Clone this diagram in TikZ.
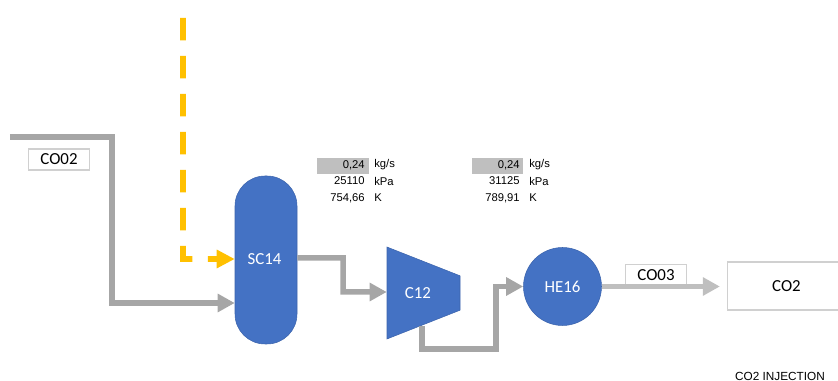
\documentclass[tikz,border=0pt]{standalone}
\usepackage{fontspec}
\setmainfont{Carlito}
\newfontfamily\datafont{Liberation Sans}
\definecolor{pfblue}{RGB}{68,114,196}
\definecolor{pfedge}{RGB}{60,100,172}
\definecolor{pfgray}{RGB}{166,166,166}
\definecolor{pflight}{RGB}{191,191,191}
\definecolor{pfbox}{RGB}{208,208,208}
\definecolor{pfyellow}{RGB}{255,192,0}
\usetikzlibrary{arrows.meta,positioning,shapes.geometric,calc}

\begin{document}
\begin{tikzpicture}[
  unit/.style={draw=pfedge, line width=0.3pt, fill=pfblue, text=white, inner sep=0pt, font=\fontsize{9.6}{11}\selectfont},
  tagbox/.style={draw=pfbox, line width=0.7pt, fill=white, minimum width=1.22cm, minimum height=0.42cm, inner sep=0pt, font=\fontsize{9.6}{11}\selectfont},
  stream/.style={line width=0.11cm, pfgray, -{Triangle[length=0.34cm,width=0.35cm]}},
  val/.style={anchor=east, inner sep=0pt, font=\datafont\fontsize{6.4}{7}\selectfont},
  uom/.style={anchor=west, inner sep=0pt, font=\datafont\fontsize{6.4}{7}\selectfont},
  flowcell/.style={fill=pflight, minimum width=1.03cm, minimum height=0.32cm, inner sep=0pt}
]
  \useasboundingbox (0,0) rectangle (16.76,7.62);

  %% Process units
  \node[unit, rounded corners=0.6cm, minimum width=1.24cm, minimum height=3.36cm] (sc14) at (5.32,2.42) {\raisebox{0.03cm}{SC14}\kern0.06cm};
  \node[unit, trapezium, trapezium angle=76, shape border rotate=270, trapezium stretches=true, minimum width=1.84cm, minimum height=1.46cm] (c12) at (8.47,1.76) {C12\kern0.22cm};
  \node[unit, circle, minimum size=1.56cm] (he16) at (11.25,1.89) {HE16};
  \node[draw=pfbox, line width=0.7pt, fill=white, minimum width=2.36cm, minimum height=0.96cm, inner sep=0pt, font=\fontsize{9.6}{11}\selectfont] (co2) at (15.73,1.9) {CO2};

  %% Stream tags
  \node[tagbox] (co02) at (1.18,4.43) {CO02};
  \node[tagbox] (co03) at (13.12,2.12) {CO03};

  %% Stream free ends
  \coordinate (feed) at (0.2,4.88);
  \coordinate (inj) at (3.66,7.26);

  %% Streams
  \draw[stream] (feed) -- (2.24,4.88) -- (2.24,1.56) -- ([yshift=-0.86cm]sc14.west);
  \draw[stream] ([yshift=0.04cm]sc14.east) -- (6.86,2.46) -- (6.86,1.78) -- ([yshift=0.02cm]c12.west);
  \draw[stream] (8.44,1.1) -- (8.44,0.64) -- (9.92,0.64) -- (9.92,1.89) -- (he16.west);
  \draw[stream, pflight] (he16.east) -- ([xshift=-0.14cm]co2.west |- he16.east);
  \draw[pfyellow, line width=0.115cm, dash pattern=on 0.45cm off 0.31cm, -{Triangle[length=0.36cm,width=0.35cm]}] (inj) -- (3.66,2.44) -- ([yshift=0.02cm]sc14.west);

  %% Stream data
  \node[flowcell] (flow1) at (6.86,4.3) {};
  \node[flowcell] (flow2) at (9.95,4.3) {};
  \node[val] (m1) at (7.3,4.32) {0,24};
  \node[val] (p1) at (7.3,4.0) {25110};
  \node[val] (t1) at (7.3,3.66) {754,66};
  \node[uom] (mu1) at (7.48,4.32) {kg/s};
  \node[uom] (pu1) at (7.48,4.0) {kPa};
  \node[uom] (tu1) at (7.48,3.66) {K};
  \node[val] (m2) at (10.4,4.32) {0,24};
  \node[val] (p2) at (10.4,4.0) {31125};
  \node[val] (t2) at (10.4,3.66) {789,91};
  \node[uom] (mu2) at (10.58,4.32) {kg/s};
  \node[uom] (pu2) at (10.58,4.0) {kPa};
  \node[uom] (tu2) at (10.58,3.66) {K};

  %% Caption
  \node[inner sep=0pt, font=\datafont\fontsize{6.7}{7}\selectfont] (title) at (15.6,0.09) {CO2 INJECTION};
\end{tikzpicture}
\end{document}
